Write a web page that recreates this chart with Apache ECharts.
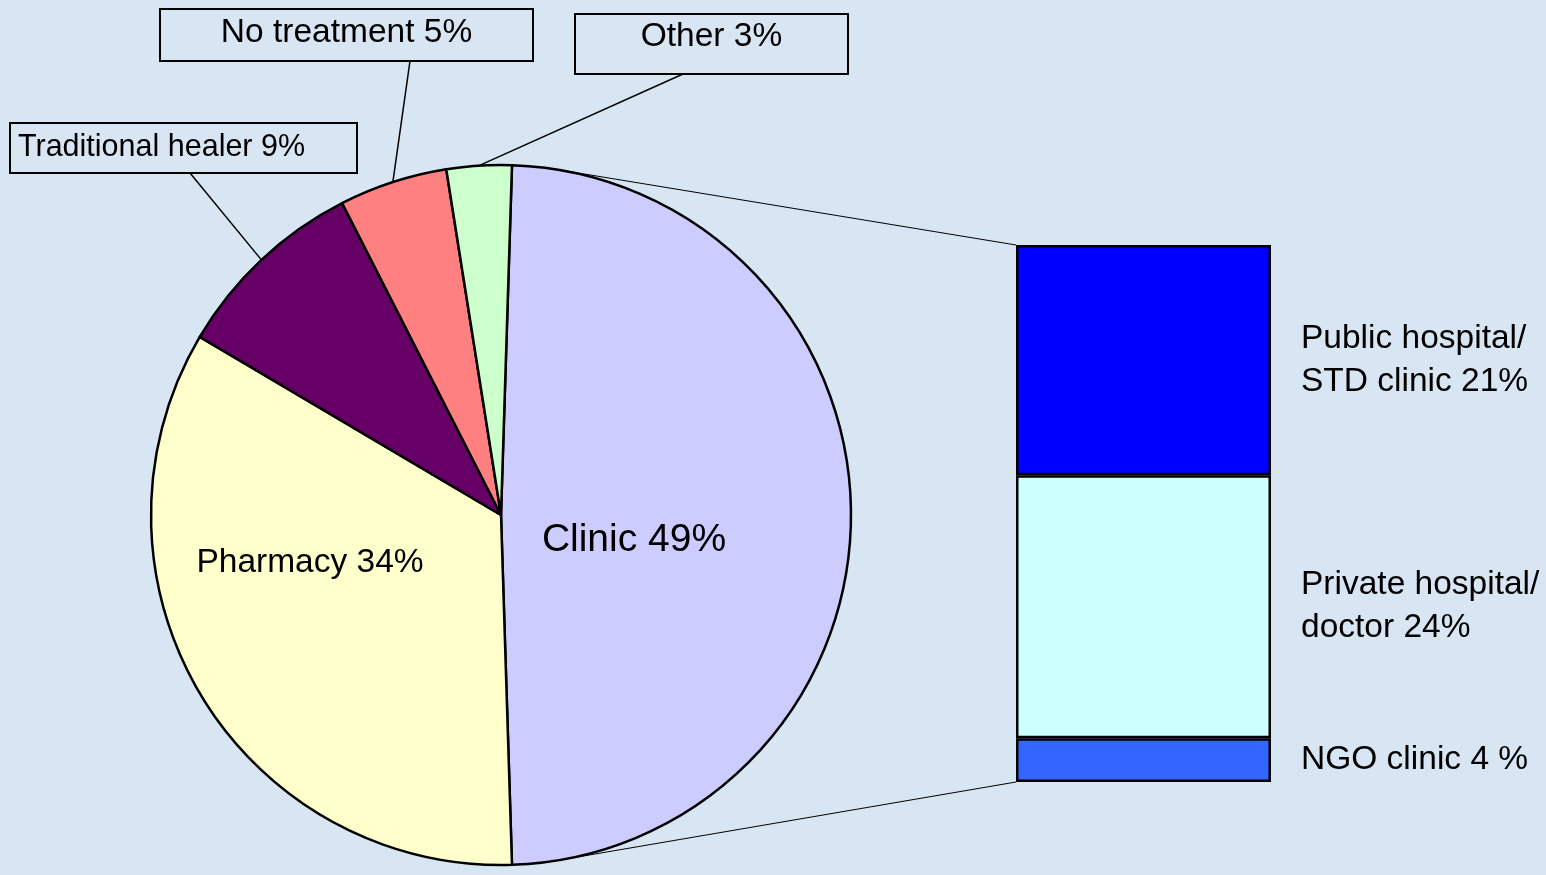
<!DOCTYPE html>
<html>
<head>
<meta charset="utf-8">
<script src="https://cdn.jsdelivr.net/npm/echarts/dist/echarts.min.js"></script>
<style>
html,body{margin:0;padding:0;background:#d8e5f3;}
#main{width:1546px;height:875px;}
</style>
</head>
<body>
<div id="main"></div>
<script>
// pie: where people went for treatment
var pieNames = ['Clinic', 'Pharmacy', 'Traditional healer', 'No treatment', 'Other'];
var pieValues = [49, 34, 9, 5, 3];
var pieColors = ['#ccccff', '#ffffcc', '#660066', '#ff8080', '#ccffcc'];

// bar: breakdown of the clinic slice
var barNames = ['Public hospital/\nSTD clinic', 'Private hospital/\ndoctor', 'NGO clinic'];
var barValues = [21, 24, 4];
var barPct = ['21%', '24%', '4 %'];
var barColors = ['#0000ff', '#ccffff', '#3366ff'];

var FONT = '"Liberation Sans", Arial, sans-serif';
var cx = 501, cy = 515, R = 350, START = 88.2;
var grid = {left: 1016, top: 245, width: 255, height: 537};

// label boxes (layout only)
var labelPos = [
  {x: 634, y: 540, align: 'center', va: 'middle'},
  {x: 310, y: 563, align: 'center', va: 'middle'},
  {x: 10, y: 123, align: 'left', va: 'top', tail: [190, 173]},
  {x: 346.5, y: 9, align: 'center', va: 'top', tail: [410, 61]},
  {x: 711.5, y: 14, align: 'center', va: 'top', tail: [683, 74]}
];
var boxBorder = {borderColor: '#000', borderWidth: 2};
var labelStyle = [
  {position: 'inside', fontSize: 39},
  {position: 'inside', fontSize: 33.5},
  Object.assign({position: 'outside', fontSize: 30.5, width: 331, height: 50, lineHeight: 50, padding: [0, 8], align: 'left', verticalAlign: 'top'}, boxBorder),
  Object.assign({position: 'outside', fontSize: 33.5, width: 373, height: 48, lineHeight: 48, padding: [0, 0, 4, 0], align: 'center', verticalAlign: 'top'}, boxBorder),
  Object.assign({position: 'outside', fontSize: 33.5, width: 273, height: 46, lineHeight: 46, padding: [0, 0, 14, 0], align: 'center', verticalAlign: 'top'}, boxBorder)
];

var total = pieValues.reduce(function (a, b) { return a + b; }, 0);
function anchor(idx) {
  var cum = 0;
  for (var i = 0; i < idx; i++) cum += pieValues[i];
  var a = (90 - START + 360 * (cum + pieValues[idx] / 2) / total) * Math.PI / 180;
  return [cx + R * Math.sin(a), cy - R * Math.cos(a)];
}
function tangent(px, py, up) {
  var dx = px - cx, dy = py - cy;
  var d = Math.sqrt(dx * dx + dy * dy);
  var base = Math.atan2(dy, dx), off = Math.acos(R / d);
  var a = up ? base - off : base + off;
  return [cx + R * Math.cos(a), cy + R * Math.sin(a)];
}

var pieData = pieNames.map(function (n, i) {
  return {
    name: n,
    value: pieValues[i],
    itemStyle: {color: pieColors[i]},
    label: labelStyle[i],
    labelLine: {show: i > 1}
  };
});

var series = [{
  type: 'pie',
  center: [cx, cy],
  radius: R,
  startAngle: START,
  clockwise: true,
  avoidLabelOverlap: false,
  silent: true,
  itemStyle: {borderColor: '#000', borderWidth: 2.5},
  label: {
    color: '#000',
    fontFamily: FONT,
    formatter: function (p) { return p.name + ' ' + p.value + '%'; }
  },
  labelLine: {length: 5, length2: 5, lineStyle: {color: '#000', width: 1.5}},
  labelLayout: function (p) {
    var L = labelPos[p.dataIndex];
    var out = {x: L.x, y: L.y, align: L.align, verticalAlign: L.va};
    if (L.tail) out.labelLinePoints = [anchor(p.dataIndex), L.tail, L.tail];
    return out;
  },
  data: pieData
}];

// stacked bar, bottom segment first
for (var i = barValues.length - 1; i >= 0; i--) {
  series.push({
    type: 'bar',
    stack: 'clinic',
    barWidth: '100%',
    silent: true,
    data: [barValues[i]],
    itemStyle: {color: barColors[i], borderColor: '#000', borderWidth: 2.5},
    label: {
      show: true,
      position: 'right',
      distance: 30,
      align: 'left',
      color: '#000',
      fontFamily: FONT,
      fontSize: 33.5,
      lineHeight: 43,
      formatter: barNames[i] + ' ' + barPct[i]
    }
  });
}

var topPt = tangent(grid.left, grid.top, true);
var botPt = tangent(grid.left, grid.top + grid.height, false);

var myChart = echarts.init(document.getElementById('main'));
myChart.setOption({
  backgroundColor: '#d8e5f3',
  animation: false,
  grid: grid,
  xAxis: {type: 'category', data: ['Clinic'], show: false},
  yAxis: {type: 'value', min: 0, max: 49, show: false},
  graphic: [
    {type: 'line', z: -1, shape: {x1: topPt[0], y1: topPt[1], x2: grid.left, y2: grid.top}, style: {stroke: '#000', lineWidth: 1}},
    {type: 'line', z: -1, shape: {x1: botPt[0], y1: botPt[1], x2: grid.left, y2: grid.top + grid.height}, style: {stroke: '#000', lineWidth: 1}}
  ],
  series: series
});
</script>
</body>
</html>
